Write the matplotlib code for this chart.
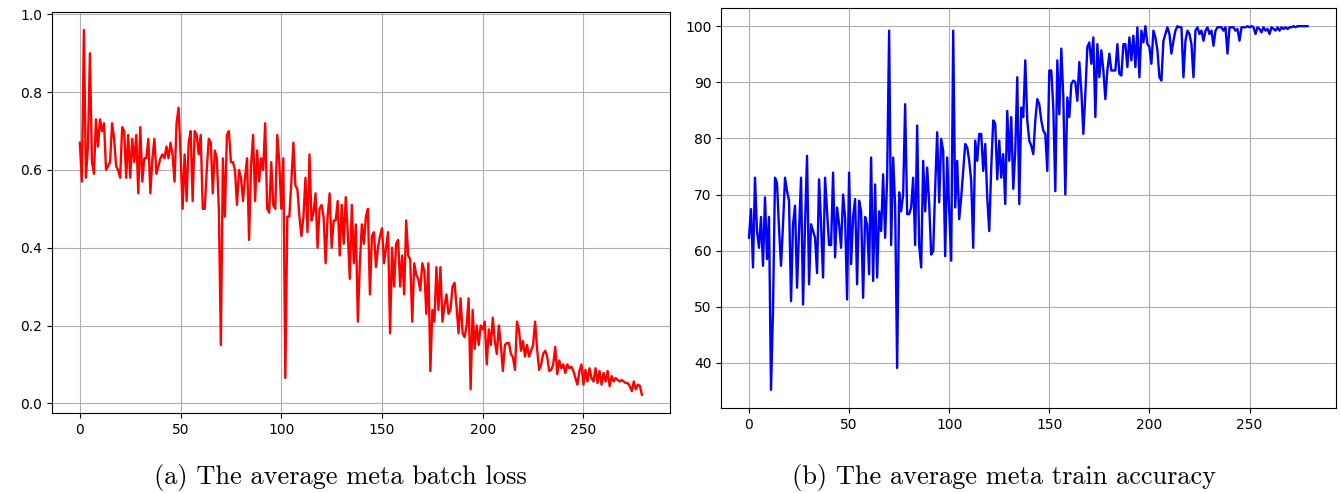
import matplotlib
matplotlib.use("Agg")
import matplotlib.pyplot as plt
import numpy as np

loss = [
    0.67, 0.57, 0.96, 0.58, 0.66, 0.90, 0.62, 0.59, 0.73, 0.66,
    0.73, 0.70, 0.72, 0.60, 0.61, 0.62, 0.72, 0.68, 0.61, 0.60,
    0.58, 0.71, 0.70, 0.58, 0.69, 0.58, 0.68, 0.62, 0.69, 0.54,
    0.71, 0.57, 0.63, 0.63, 0.68, 0.54, 0.63, 0.68, 0.59, 0.61,
    0.63, 0.64, 0.63, 0.66, 0.63, 0.67, 0.64, 0.57, 0.72, 0.76,
    0.64, 0.50, 0.64, 0.52, 0.67, 0.70, 0.52, 0.70, 0.69, 0.64,
    0.69, 0.50, 0.50, 0.60, 0.68, 0.67, 0.54, 0.65, 0.63, 0.50,
    0.15, 0.63, 0.48, 0.69, 0.70, 0.62, 0.62, 0.60, 0.51, 0.60,
    0.58, 0.52, 0.58, 0.63, 0.42, 0.61, 0.69, 0.52, 0.65, 0.57,
    0.63, 0.60, 0.72, 0.50, 0.49, 0.62, 0.51, 0.50, 0.69, 0.62,
    0.50, 0.63, 0.065, 0.48, 0.48, 0.57, 0.67, 0.56, 0.55, 0.48,
    0.43, 0.48, 0.58, 0.44, 0.64, 0.47, 0.49, 0.54, 0.40, 0.50,
    0.51, 0.48, 0.36, 0.48, 0.54, 0.40, 0.47, 0.47, 0.52, 0.38,
    0.51, 0.41, 0.53, 0.44, 0.32, 0.51, 0.36, 0.46, 0.21, 0.36,
    0.46, 0.41, 0.48, 0.50, 0.28, 0.43, 0.44, 0.35, 0.40, 0.43,
    0.45, 0.36, 0.40, 0.44, 0.18, 0.40, 0.30, 0.41, 0.42, 0.30,
    0.38, 0.28, 0.47, 0.38, 0.37, 0.21, 0.36, 0.33, 0.32, 0.29,
    0.36, 0.34, 0.23, 0.36, 0.083, 0.24, 0.21, 0.35, 0.24, 0.35,
    0.21, 0.25, 0.28, 0.23, 0.24, 0.30, 0.31, 0.25, 0.18, 0.27,
    0.18, 0.17, 0.20, 0.27, 0.036, 0.24, 0.14, 0.20, 0.15, 0.20,
    0.19, 0.21, 0.10, 0.19, 0.15, 0.22, 0.16, 0.127, 0.20, 0.15,
    0.083, 0.15, 0.155, 0.155, 0.127, 0.118, 0.086, 0.21, 0.19, 0.135,
    0.16, 0.12, 0.15, 0.12, 0.135, 0.15, 0.21, 0.14, 0.086, 0.10,
    0.127, 0.135, 0.12, 0.083, 0.086, 0.10, 0.145, 0.075, 0.11, 0.09,
    0.10, 0.078, 0.10, 0.09, 0.094, 0.083, 0.065, 0.048, 0.083, 0.10,
    0.048, 0.086, 0.056, 0.09, 0.065, 0.056, 0.09, 0.052, 0.083, 0.048,
    0.078, 0.056, 0.083, 0.044, 0.07, 0.056, 0.065, 0.06, 0.056, 0.06,
    0.056, 0.052, 0.052, 0.044, 0.031, 0.056, 0.036, 0.048, 0.045, 0.022,
]

accuracy = [
    62.3, 67.4, 57, 73, 63.5, 60.5, 66, 57.3, 69.5, 58.5,
    66, 35.2, 49.5, 73, 72, 64, 57.3, 64.7, 73, 70.6,
    68.9, 51, 64.7, 68, 53.4, 63.5, 73, 50.4, 64.7, 76.9,
    54, 64.7, 63.5, 62.3, 56, 72.7, 64.7, 55.2, 73, 67,
    61, 61, 73.9, 58.8, 67.7, 64.7, 60.5, 70, 65.9, 51.3,
    73.9, 57.6, 66, 69.2, 54, 68.9, 67, 51.6, 66, 64.7,
    55.8, 76.6, 54.6, 71.8, 55.2, 67, 63.5, 73.6, 62.3, 73,
    99.2, 61, 76.6, 68, 39.1, 70.4, 67, 70, 86.1, 66.5,
    66.5, 67.7, 73, 61, 82.3, 61, 57, 76, 67, 74.8,
    68.3, 59.3, 59.9, 71.2, 81.1, 68.6, 79.9, 77.8, 59, 76.6,
    67, 58.2, 99.2, 67.7, 76, 65.6, 69.5, 74.2, 79, 78.4,
    76, 72.4, 60.5, 79.6, 76, 80.8, 80.8, 74.2, 79, 69.5,
    63.5, 74.8, 83.2, 82.6, 72.7, 79.6, 73, 77.2, 68.3, 84.9,
    76, 83.8, 71, 77.8, 90.9, 68.3, 85.5, 83.8, 93.9, 83.2,
    79.6, 78.7, 77.2, 83.2, 87, 86.1, 83.2, 81.4, 80.8, 74.2,
    92.1, 92.1, 85.5, 70.6, 93.9, 84.3, 96, 87.3, 70, 87.3,
    83.8, 89.7, 90.3, 90, 86.7, 93.6, 88.5, 80.8, 87.9, 96.3,
    97.1, 93.3, 98, 83.8, 96.8, 90.9, 95.7, 92.1, 87, 92.1,
    95.1, 92.1, 92.1, 92.1, 96.8, 91.5, 91.2, 96.8, 96.8, 92.7,
    98, 93.9, 98.3, 92.7, 99.8, 90.9, 99.2, 97.1, 100, 96.8,
    96.3, 93.3, 99.2, 98, 95.7, 90.9, 90.3, 97.4, 98.6, 99.8,
    98.6, 95.1, 97.4, 99.2, 100, 99.8, 99.8, 90.9, 97.4, 99.2,
    98.6, 96.8, 90.9, 99.2, 99.8, 98.6, 99.2, 97.4, 99.2, 99.8,
    98.6, 99.2, 96.5, 99.2, 99.8, 99.8, 99.8, 99.2, 99.8, 95.1,
    99.8, 99.8, 99.8, 99.2, 99.5, 97.4, 99.8, 99.8, 99.8, 100,
    99.8, 100, 99.8, 98.6, 99.8, 99.5, 98.9, 99.8, 99.2, 99.5,
    98.6, 99.8, 99.5, 99.2, 99.8, 99.2, 99.8, 99.5, 99.8, 99.5,
    99.8, 99.8, 100, 99.8, 100, 100, 100, 100, 100, 100,
]

caption_a = "(a) The average meta batch loss"
caption_b = "(b) The average meta train accuracy"
x_ticks = [0, 50, 100, 150, 200, 250]

fig = plt.figure(figsize=(13.41, 4.93), dpi=100)
ax1 = fig.add_axes([0.0386, 0.1623, 0.4610, 0.814])
ax2 = fig.add_axes([0.5377, 0.1724, 0.4582, 0.8114])

ax1.plot(np.arange(len(loss)), loss, color="red", lw=1.7)
ax2.plot(np.arange(len(accuracy)), accuracy, color="blue", lw=1.7)

for ax in (ax1, ax2):
    ax.grid(True)
    ax.set_xticks(x_ticks)
    ax.tick_params(labelsize=10)

fig.text(0.2535, 0.032, caption_a, ha="center", va="center",
         fontsize=19, family="cmr10")
fig.text(0.749, 0.032, caption_b, ha="center", va="center",
         fontsize=19, family="cmr10")

fig.savefig("out.png", dpi=100)
